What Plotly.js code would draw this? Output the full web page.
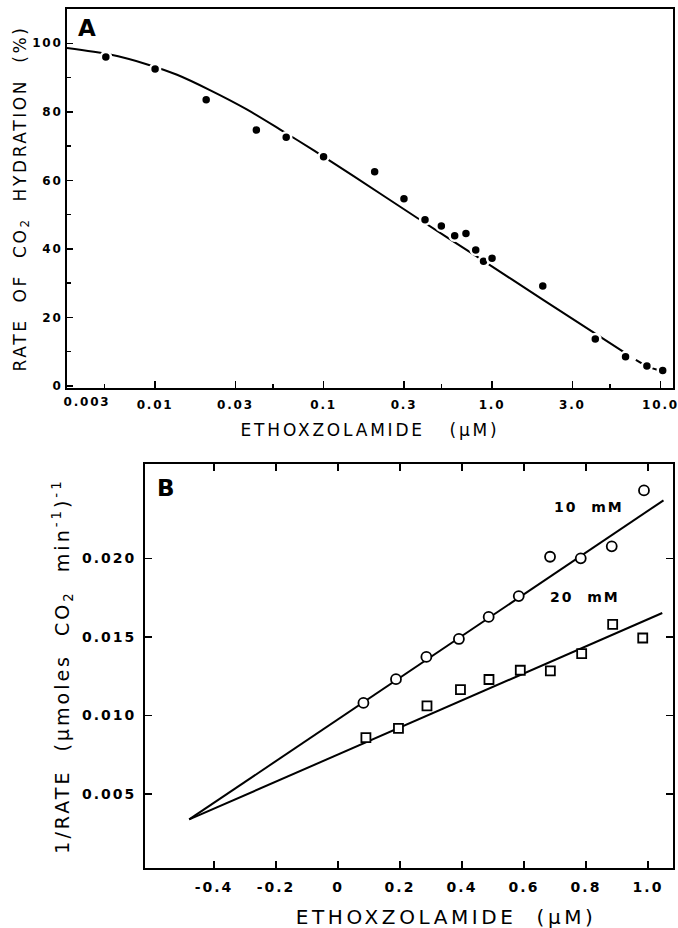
<!DOCTYPE html>
<html>
<head>
<meta charset="utf-8">
<script src="https://cdn.plot.ly/plotly-3.0.1.min.js"></script>
<style>
  html, body { margin: 0; padding: 0; background: #fff; }
  #chart { width: 678px; height: 928px; }
  .xtick text, .ytick text { letter-spacing: 1.8px; }
  .x2tick text, .y2tick text { letter-spacing: 2px; }
  .xtitle { letter-spacing: 2.8px; }
  .ytitle { letter-spacing: 2.6px; }
  .y2title { letter-spacing: 3px; }
  .annotation-text { letter-spacing: 2px; }
  .annotation[data-index="2"] text { letter-spacing: 1.8px; }
  .annotation[data-index="5"] text { letter-spacing: 3.6px; }
</style>
</head>
<body>
<div id="chart"></div>
<script>
// ---------- Panel A data ----------
var concA = [0.0051, 0.01, 0.0201, 0.0399, 0.060, 0.1, 0.201, 0.30, 0.40, 0.50, 0.60, 0.70, 0.80, 0.89, 1.0, 2.0, 4.1, 6.2, 8.3, 10.3];
var rateA = [96.0, 92.5, 83.5, 74.7, 72.6, 66.9, 62.5, 54.6, 48.5, 46.7, 43.8, 44.5, 39.7, 36.4, 37.3, 29.2, 13.7, 8.5, 5.8, 4.5];
// fitted curve (solid part and dashed tail)
var fitAx = [0.003, 0.0054, 0.0089, 0.0135, 0.021, 0.035, 0.055, 0.087, 0.15, 0.36, 0.81, 2.0, 6.0];
var fitAy = [98.6, 96.7, 93.9, 90.8, 86.4, 80.7, 74.9, 68.8, 61.3, 49.0, 37.8, 25.2, 10.0];
var tailAx = [6.0, 8.3, 10.4];
var tailAy = [10.0, 5.8, 4.2];
var tickValsA = [0.01, 0.03, 0.1, 0.3, 1, 3, 10];
var tickTextA = ['0.01', '0.03', '0.1', '0.3', '1.0', '3.0', '10.0'];
var minorValsA = [0.005, 0.05, 0.5, 5];
var yTickValsA = [0, 20, 40, 60, 80, 100];

// ---------- Panel B data ----------
var conc10 = [0.082, 0.187, 0.285, 0.390, 0.486, 0.583, 0.684, 0.783, 0.883, 0.987];
var inv10  = [0.0108, 0.01231, 0.01373, 0.01487, 0.01627, 0.0176, 0.0201, 0.0200, 0.02076, 0.02432];
var conc20 = [0.090, 0.195, 0.287, 0.395, 0.487, 0.588, 0.685, 0.786, 0.886, 0.983];
var inv20  = [0.0086, 0.00918, 0.01061, 0.01165, 0.01229, 0.01288, 0.01284, 0.01394, 0.0158, 0.01493];
var fit10x = [-0.48, 1.05];
var fit10y = [0.00339, 0.02369];
var fit20x = [-0.48, 1.046];
var fit20y = [0.00339, 0.01652];
var tickValsB = [-0.4, -0.2, 0, 0.2, 0.4, 0.6, 0.8, 1.0];
var tickTextB = ['-0.4', '-0.2', '0', '0.2', '0.4', '0.6', '0.8', '1.0'];
var yTickValsB = [0.005, 0.010, 0.015, 0.020];
var yTickTextB = ['0.005', '0.010', '0.015', '0.020'];

var FONT = 'DejaVu Sans';
var W = 678, H = 928;
function px(x) { return x / W; }
function py(y) { return 1 - y / H; }

var traces = [
  { x: fitAx, y: fitAy, xaxis: 'x', yaxis: 'y', mode: 'lines', line: { color: '#000', width: 2, shape: 'spline', smoothing: 0.8 }, hoverinfo: 'skip' },
  { x: tailAx, y: tailAy, xaxis: 'x', yaxis: 'y', mode: 'lines', line: { color: '#000', width: 2, dash: '9px,6px', shape: 'spline' }, hoverinfo: 'skip' },
  { x: concA, y: rateA, xaxis: 'x', yaxis: 'y', mode: 'markers',
    marker: { color: '#000', size: 10, line: { color: '#fff', width: 2.5 } } },
  { x: fit10x, y: fit10y, xaxis: 'x2', yaxis: 'y2', mode: 'lines', line: { color: '#000', width: 2 }, hoverinfo: 'skip' },
  { x: fit20x, y: fit20y, xaxis: 'x2', yaxis: 'y2', mode: 'lines', line: { color: '#000', width: 2 }, hoverinfo: 'skip' },
  { x: conc10, y: inv10, xaxis: 'x2', yaxis: 'y2', mode: 'markers',
    marker: { symbol: 'circle', color: '#fff', size: 10, line: { color: '#000', width: 1.8 } } },
  { x: conc20, y: inv20, xaxis: 'x2', yaxis: 'y2', mode: 'markers',
    marker: { symbol: 'square', color: '#fff', size: 9, line: { color: '#000', width: 1.8 } } }
];

var rngAx = [Math.log10(0.003), 1.074];
var rngAy = [-0.6, 110];
var rngBx = [-0.6226, 1.0806];
var rngBy = [0.0003, 0.026];

var tickFontA = { family: FONT, size: 12, color: '#000', weight: 'bold' };
var tickFontB = { family: FONT, size: 14, color: '#000', weight: 'bold' };

var layout = {
  width: W, height: H,
  margin: { l: 0, r: 0, t: 0, b: 0 },
  paper_bgcolor: '#fff', plot_bgcolor: 'rgba(0,0,0,0)',
  showlegend: false,
  font: { family: FONT, color: '#000' },
  xaxis: {
    type: 'log', range: rngAx, domain: [px(67), px(673)], anchor: 'y',
    tickmode: 'array', tickvals: tickValsA, ticktext: tickTextA,
    ticks: 'inside', ticklen: 7, tickwidth: 1.5, tickcolor: '#000',
    minor: { tickmode: 'array', tickvals: minorValsA, ticks: 'inside', ticklen: 4, tickwidth: 1.5, tickcolor: '#000', showgrid: false },
    showline: true, linecolor: '#000', linewidth: 2, mirror: true,
    showgrid: false, zeroline: false, ticklabeloverflow: 'allow',
    tickfont: tickFontA, ticklabelstandoff: 5,
    title: { text: 'ETHOXZOLAMIDE\u00a0\u00a0\u00a0(\u03bcM)', font: { family: FONT, size: 17, color: '#000' }, standoff: 13 }
  },
  yaxis: {
    range: rngAy, domain: [py(388), py(9)], anchor: 'x',
    tickmode: 'array', tickvals: yTickValsA,
    ticks: 'inside', ticklen: 6, tickwidth: 1.5, tickcolor: '#000',
    minor: { tickmode: 'array', tickvals: [10, 30, 50, 70, 90], ticks: 'inside', ticklen: 4, tickwidth: 1.5, tickcolor: '#000', showgrid: false },
    showline: true, linecolor: '#000', linewidth: 2, mirror: true,
    showgrid: false, zeroline: false, ticklabeloverflow: 'allow',
    tickfont: tickFontA, ticklabelstandoff: 0,
    title: { text: '\u00a0\u00a0\u00a0RATE\u00a0 OF\u00a0 CO<sub>2</sub>\u00a0 HYDRATION\u00a0 (%)', font: { family: FONT, size: 17, color: '#000' }, standoff: 0 }
  },
  xaxis3: {
    type: 'log', range: rngAx, overlaying: 'x', anchor: 'y', side: 'top',
    tickmode: 'array', tickvals: [0.01, 0.1, 1, 10],
    ticks: 'inside', ticklen: 8, tickwidth: 1.5, tickcolor: '#000',
    showticklabels: false, showline: false, showgrid: false, zeroline: false
  },
  yaxis3: {
    range: rngAy, overlaying: 'y', anchor: 'x', side: 'right',
    tickmode: 'array', tickvals: [20, 40, 60, 80, 100],
    ticks: 'inside', ticklen: 8, tickwidth: 1.5, tickcolor: '#000',
    showticklabels: false, showline: false, showgrid: false, zeroline: false
  },
  xaxis2: {
    range: rngBx, domain: [px(145), px(673)], anchor: 'y2',
    tickmode: 'array', tickvals: tickValsB, ticktext: tickTextB,
    ticks: 'inside', ticklen: 7, tickwidth: 1.5, tickcolor: '#000',
    showline: true, linecolor: '#000', linewidth: 2, mirror: 'ticks',
    showgrid: false, zeroline: false, ticklabeloverflow: 'allow',
    tickfont: tickFontB, ticklabelstandoff: 5
  },
  yaxis2: {
    range: rngBy, domain: [py(868), py(464)], anchor: 'x2',
    tickmode: 'array', tickvals: yTickValsB, ticktext: yTickTextB,
    ticks: 'inside', ticklen: 7, tickwidth: 1.5, tickcolor: '#000',
    showline: true, linecolor: '#000', linewidth: 2, mirror: 'ticks',
    showgrid: false, zeroline: false, ticklabeloverflow: 'allow',
    tickfont: tickFontB, ticklabelstandoff: 4,
    title: { text: '1/RATE\u00a0\u00a0(\u03bcmoles\u00a0\u00a0CO<sub>2</sub>\u00a0\u00a0min<sup>-1</sup>)<sup>-1</sup>\u00a0\u00a0\u00a0\u00a0', font: { family: FONT, size: 19, color: '#000' }, standoff: 7 }
  },
  yaxis4: {
    range: rngBy, overlaying: 'y2', anchor: 'free', position: px(336), side: 'left',
    tickmode: 'array', tickvals: yTickValsB,
    ticks: 'inside', ticklen: 8, tickwidth: 1.5, tickcolor: '#000',
    showticklabels: false, showline: true, linecolor: '#000', linewidth: 1.5,
    showgrid: false, zeroline: false
  },
  annotations: [
    { text: 'A', xref: 'paper', yref: 'paper', x: px(88), y: py(28), xanchor: 'center', yanchor: 'middle', showarrow: false,
      font: { family: FONT, size: 23, color: '#000', weight: 'bold' } },
    { text: 'B', xref: 'paper', yref: 'paper', x: px(167), y: py(488), xanchor: 'center', yanchor: 'middle', showarrow: false,
      font: { family: FONT, size: 23, color: '#000', weight: 'bold' } },
    { text: '0.003', xref: 'paper', yref: 'paper', x: px(87), y: py(402), xanchor: 'center', yanchor: 'middle', showarrow: false,
      font: tickFontA },
    { text: '10\u00a0 mM', xref: 'paper', yref: 'paper', x: px(589), y: py(507), xanchor: 'center', yanchor: 'middle', showarrow: false,
      font: { family: FONT, size: 14, color: '#000', weight: 'bold' } },
    { text: '20\u00a0 mM', xref: 'paper', yref: 'paper', x: px(585), y: py(597), xanchor: 'center', yanchor: 'middle', showarrow: false,
      font: { family: FONT, size: 14, color: '#000', weight: 'bold' } },
    { text: 'ETHOXZOLAMIDE\u00a0\u00a0(\u03bcM)', xref: 'paper', yref: 'paper', x: px(446), y: py(917), xanchor: 'center', yanchor: 'middle', showarrow: false,
      font: { family: FONT, size: 20, color: '#000' } }
  ]
};

Plotly.newPlot('chart', traces, layout, { staticPlot: true, displayModeBar: false });
</script>
</body>
</html>
